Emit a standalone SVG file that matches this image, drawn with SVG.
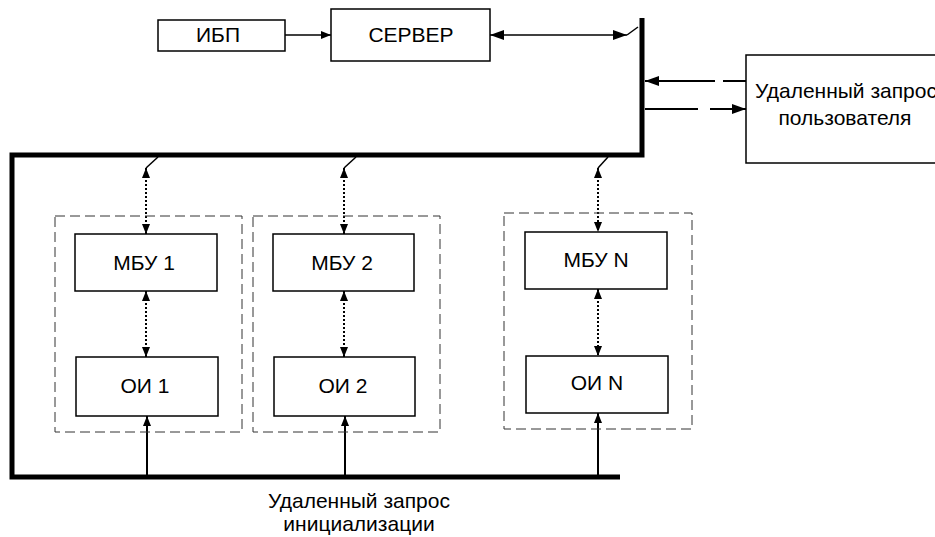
<svg xmlns="http://www.w3.org/2000/svg" width="935" height="537" viewBox="0 0 935 537">
<style>
.box{fill:#fff;stroke:#000;stroke-width:1.5}
.grp{fill:none;stroke:#333;stroke-width:1;stroke-dasharray:10 5}
.bus{fill:none;stroke:#000;stroke-width:5;stroke-linejoin:miter}
.ln{fill:none;stroke:#000;stroke-width:1.5}
.dot{fill:none;stroke:#000;stroke-width:2;stroke-dasharray:2 2}
.dsh{fill:none;stroke:#000;stroke-width:2}
.t{font-family:"Liberation Sans",Arial,sans-serif;font-size:21px;fill:#000;text-anchor:middle}
</style>
<defs>
<marker id="ah" viewBox="0 0 10 8" refX="10" refY="4" markerWidth="10" markerHeight="8" markerUnits="userSpaceOnUse" orient="auto-start-reverse">
<path d="M0,0 L10,4 L0,8 Z" fill="#000"/>
</marker>
<marker id="ah2" viewBox="0 0 14 10" refX="14" refY="5" markerWidth="14" markerHeight="10" markerUnits="userSpaceOnUse" orient="auto-start-reverse">
<path d="M0,0 L14,5 L0,10 Z" fill="#000"/>
</marker>
</defs>
<g id="connectors">
<path class="bus" d="M642,18 V155 H12 V477 H620"/>
<line class="ln" x1="285" y1="35" x2="331" y2="35" marker-end="url(#ah)"/>
<line class="ln" x1="490" y1="35" x2="627" y2="35" marker-start="url(#ah2)" marker-end="url(#ah2)"/>
<line class="ln" x1="627" y1="35" x2="638" y2="27"/>
<path class="dsh" d="M746,81 H723 M715,81 H645" marker-end="url(#ah2)"/>
<path class="dsh" d="M645,109 H698 M710,109 H746" marker-end="url(#ah2)"/>
<line class="ln" x1="146" y1="168" x2="158" y2="157"/>
<line class="dot" x1="146" y1="168" x2="146" y2="234" marker-start="url(#ah)" marker-end="url(#ah)"/>
<line class="ln" x1="344" y1="168" x2="356" y2="157"/>
<line class="dot" x1="344" y1="168" x2="344" y2="234" marker-start="url(#ah)" marker-end="url(#ah)"/>
<line class="ln" x1="598" y1="168" x2="608" y2="157"/>
<line class="dot" x1="598" y1="168" x2="598" y2="232" marker-start="url(#ah)" marker-end="url(#ah)"/>
<line class="dot" x1="146" y1="291" x2="146" y2="357" marker-start="url(#ah)" marker-end="url(#ah)"/>
<line class="dot" x1="344" y1="291" x2="344" y2="357" marker-start="url(#ah)" marker-end="url(#ah)"/>
<line class="dot" x1="598" y1="289" x2="598" y2="356" marker-start="url(#ah)" marker-end="url(#ah)"/>
<line class="dsh" x1="147" y1="476" x2="147" y2="416" marker-end="url(#ah)"/>
<line class="dsh" x1="345" y1="476" x2="345" y2="416" marker-end="url(#ah)"/>
<line class="dsh" x1="598" y1="476" x2="598" y2="413" marker-end="url(#ah)"/>
</g>
<g id="grp1"><rect class="grp" x="55" y="216" width="187" height="216"/></g>
<g id="grp2"><rect class="grp" x="253" y="216" width="187" height="216"/></g>
<g id="grpN"><rect class="grp" x="504" y="213" width="188" height="216"/></g>
<g id="ibp"><rect class="box" x="158" y="20" width="127" height="31"/><text class="t" x="218" y="42">ИБП</text></g>
<g id="server"><rect class="box" x="331" y="9" width="159" height="52"/><text class="t" x="411" y="42">СЕРВЕР</text></g>
<g id="remote-user"><rect class="box" x="746" y="55" width="200" height="108"/><text class="t" x="846" y="98">Удаленный запрос</text><text class="t" x="845" y="125">пользователя</text></g>
<g id="mbu1"><rect class="box" x="75" y="234" width="142" height="57"/><text class="t" x="144" y="270">МБУ 1</text></g>
<g id="mbu2"><rect class="box" x="273" y="234" width="141" height="57"/><text class="t" x="342" y="270">МБУ 2</text></g>
<g id="mbuN"><rect class="box" x="525" y="232" width="142" height="57"/><text class="t" x="596" y="267">МБУ N</text></g>
<g id="oi1"><rect class="box" x="76" y="357" width="142" height="59"/><text class="t" x="145" y="393">ОИ 1</text></g>
<g id="oi2"><rect class="box" x="274" y="357" width="141" height="59"/><text class="t" x="343" y="393">ОИ 2</text></g>
<g id="oiN"><rect class="box" x="526" y="356" width="142" height="57"/><text class="t" x="597" y="390">ОИ N</text></g>
<g id="init-label"><text class="t" x="359" y="508">Удаленный запрос</text><text class="t" x="359" y="531">инициализации</text></g>
</svg>
